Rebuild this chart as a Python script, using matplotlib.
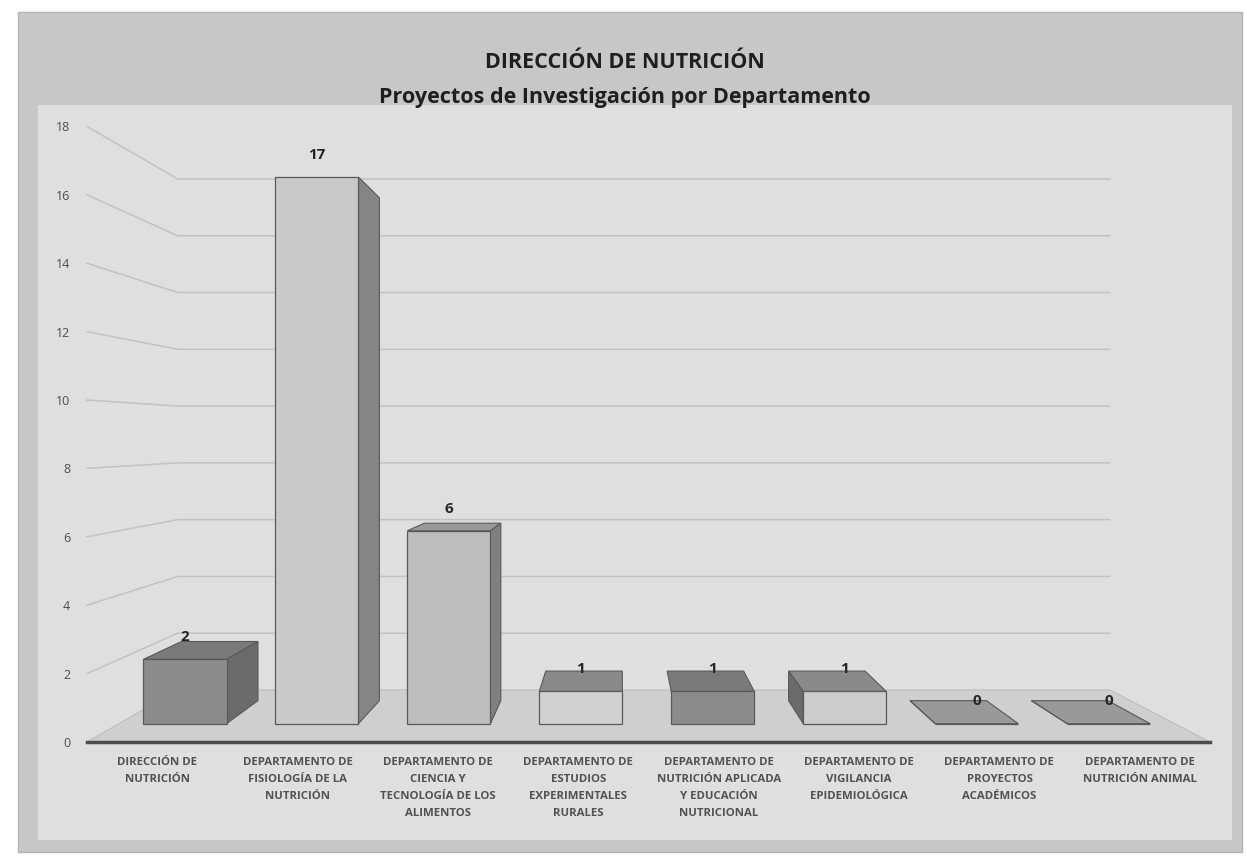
import matplotlib.pyplot as plt
from matplotlib.patches import Polygon, Rectangle

# data
departamentos = ["DIRECCIÓN DE\nNUTRICIÓN",
                 "DEPARTAMENTO DE\nFISIOLOGÍA DE LA\nNUTRICIÓN",
                 "DEPARTAMENTO DE\nCIENCIA Y\nTECNOLOGÍA DE LOS\nALIMENTOS",
                 "DEPARTAMENTO DE\nESTUDIOS\nEXPERIMENTALES\nRURALES",
                 "DEPARTAMENTO DE\nNUTRICIÓN APLICADA\nY EDUCACIÓN\nNUTRICIONAL",
                 "DEPARTAMENTO DE\nVIGILANCIA\nEPIDEMIOLÓGICA",
                 "DEPARTAMENTO DE\nPROYECTOS\nACADÉMICOS",
                 "DEPARTAMENTO DE\nNUTRICIÓN ANIMAL"]
proyectos = [2, 17, 6, 1, 1, 1, 0, 0]
yticks = list(range(0, 19, 2))

# grey shades per bar (front, side, top)
front_col = ['0.55', '0.79', '0.74', '0.82', '0.55', '0.80', '0.65', '0.65']
side_col = ['0.42', '0.52', '0.50', '0.50', '0.45', '0.42', '0.55', '0.55']
top_col = ['0.48', '0.60', '0.60', '0.54', '0.48', '0.54', '0.60', '0.60']

# simple perspective: vanishing point in data units, depth factors
VP = (3.30, 8.95)
K_FRONT, K_BARF, K_BARB, K_WALL = 1.0, 0.94, 0.865, 0.83
HALF = 0.315


def proj(x, v, k):
    return (VP[0] + k * (x - VP[0]), VP[1] + k * (v - VP[1]))


fig = plt.figure(figsize=(12.47, 8.57), dpi=100)
fig.patch.set_facecolor('white')
fig.patches.append(Rectangle((18 / 1247, 1 - 852 / 857), 1224 / 1247, 840 / 857,
                             transform=fig.transFigure, facecolor='0.78',
                             edgecolor='0.70', lw=1, zorder=-10))
fig.patches.append(Rectangle((38 / 1247, 1 - 840 / 857), 1194 / 1247, 735 / 857,
                             transform=fig.transFigure, facecolor='0.875',
                             edgecolor='none', zorder=-9))

ax = fig.add_axes([87 / 1247, 1 - 742 / 857, 1123 / 1247, 615.6 / 857])
ax.set_facecolor('none')
ax.set_xlim(-0.5, 7.5)
ax.set_ylim(0, 18)

# floor
floor = [proj(-0.5, 0, K_FRONT), proj(7.5, 0, K_FRONT),
         proj(7.5, 0, K_WALL), proj(-0.5, 0, K_WALL)]
ax.add_patch(Polygon(floor, closed=True, facecolor='0.81', edgecolor='0.74',
                     lw=0.8, zorder=1, clip_on=False))

# gridlines on side and back wall
for v in yticks[1:]:
    a = proj(-0.5, v, K_FRONT)
    b = proj(-0.5, v, K_WALL)
    c = proj(7.5, v, K_WALL)
    ax.plot([a[0], b[0], c[0]], [a[1], b[1], c[1]], color='0.76', lw=1.1,
            zorder=1, clip_on=False)

# bars
xs = list(range(len(proyectos)))
fx = [proj(i, 0, K_BARF)[0] for i in xs]
base = proj(0, 0, K_BARF)[1]
heights = [K_BARF * v for v in proyectos]
ax.bar(fx, heights, width=2 * HALF * K_BARF, bottom=base, color=front_col,
       edgecolor='0.35', linewidth=0.9, zorder=4)

for i, v in zip(xs, proyectos):
    l, r = i - HALF, i + HALF
    # top face
    if v < VP[1]:
        top = [proj(l, v, K_BARF), proj(r, v, K_BARF),
               proj(r, v, K_BARB), proj(l, v, K_BARB)]
        ax.add_patch(Polygon(top, closed=True, facecolor=top_col[i],
                             edgecolor='0.35', lw=0.8, zorder=3))
    # side faces
    if r < VP[0]:
        side = [proj(r, 0, K_BARF), proj(r, v, K_BARF),
                proj(r, v, K_BARB), proj(r, 0, K_BARB)]
        ax.add_patch(Polygon(side, closed=True, facecolor=side_col[i],
                             edgecolor='0.35', lw=0.8, zorder=3))
    elif l > VP[0] + 0.6:
        side = [proj(l, 0, K_BARF), proj(l, v, K_BARF),
                proj(l, v, K_BARB), proj(l, 0, K_BARB)]
        ax.add_patch(Polygon(side, closed=True, facecolor=side_col[i],
                             edgecolor='0.35', lw=0.8, zorder=3))
    ax.annotate(str(v), xy=(proj(i, v, K_BARF)[0], base + K_BARF * v),
                xytext=(0, 16), textcoords='offset points', ha='center',
                va='center', fontsize=11, fontweight='bold', color='0.15',
                family='Open Sans', zorder=6)

# axes styling
for s in ['top', 'right', 'left']:
    ax.spines[s].set_visible(False)
ax.spines['bottom'].set_color('0.30')
ax.spines['bottom'].set_linewidth(2.5)
ax.set_yticks(yticks)
ax.set_yticklabels([str(t) for t in yticks], fontsize=9, color='0.30',
                   family='Open Sans')
ax.tick_params(axis='y', length=0, pad=12)
ax.set_xticks(xs)
ax.set_xticklabels(departamentos, fontsize=8.2, fontweight='bold', color='0.32',
                   family='Open Sans', linespacing=1.75, va='top')
ax.tick_params(axis='x', length=0, pad=11)

fig.text(625 / 1247, 1 - 62 / 857, "DIRECCIÓN DE NUTRICIÓN", ha='center',
         va='center', fontsize=15.5, fontweight='bold', color='0.12',
         family='Open Sans')
fig.text(625 / 1247, 1 - 97 / 857, "Proyectos de Investigación por Departamento",
         ha='center', va='center', fontsize=15.5, fontweight='bold', color='0.12',
         family='Open Sans')

fig.savefig('out.png', dpi=100)
